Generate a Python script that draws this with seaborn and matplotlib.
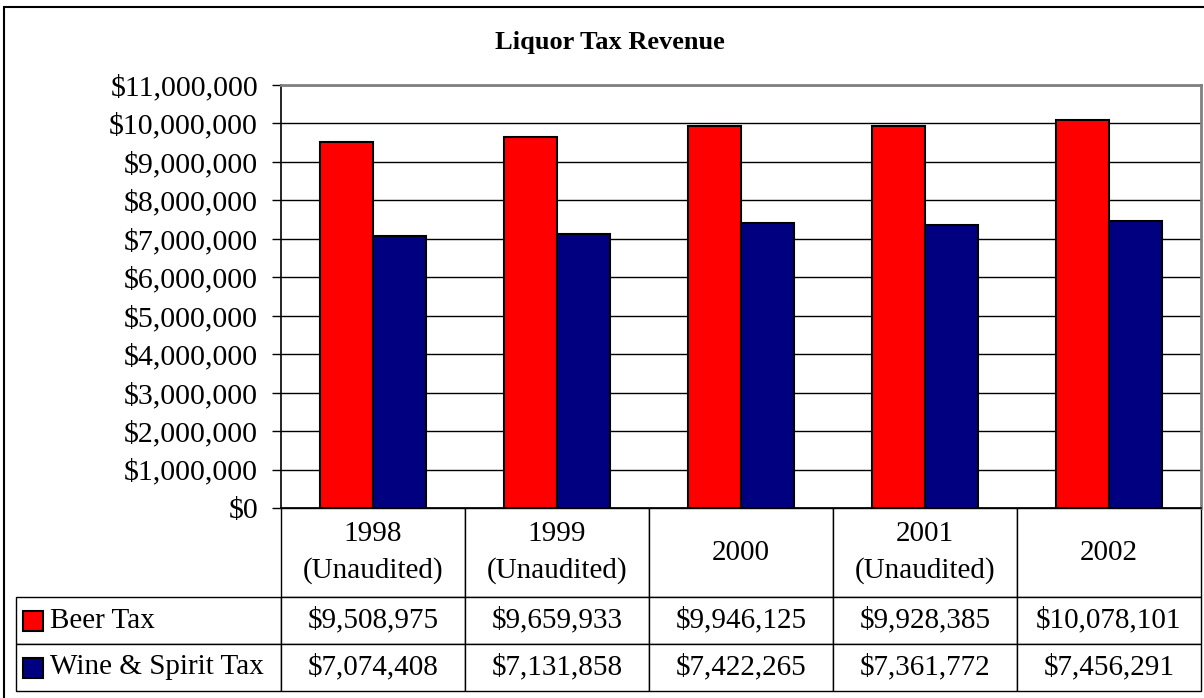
import pandas as pd
import seaborn as sns
import matplotlib.pyplot as plt
from matplotlib.patches import Rectangle
from matplotlib.ticker import StrMethodFormatter

sns.set_theme(style='white')
plt.rcParams['font.family'] = ['Liberation Serif', 'DejaVu Serif']
plt.rcParams['text.color'] = 'black'
plt.rcParams['ytick.color'] = 'black'
plt.rcParams['xtick.color'] = 'black'

years = ['1998\n(Unaudited)', '1999\n(Unaudited)', '2000', '2001\n(Unaudited)', '2002']
beer_tax = [9508975, 9659933, 9946125, 9928385, 10078101]
wine_tax = [7074408, 7131858, 7422265, 7361772, 7456291]
series = ['Beer Tax', 'Wine & Spirit Tax']
colors = ['#FF0000', '#000080']

df = pd.DataFrame({
    'Year': years * 2,
    'Series': [series[0]] * len(years) + [series[1]] * len(years),
    'Revenue': beer_tax + wine_tax,
})

W, H = 1204, 698
fig = plt.figure(figsize=(W / 100, H / 100), dpi=100)
# plot area in pixels: left 281, right 1201, top 85, bottom 508
ax = fig.add_axes([281 / W, 1 - 508 / H, 920 / W, 423 / H])

sns.barplot(data=df, x='Year', y='Revenue', hue='Series', hue_order=series,
            palette=colors, width=0.576, gap=0, edgecolor='black', linewidth=1.5,
            saturation=1, legend=False, ax=ax, zorder=3)

ax.set_ylim(0, 11000000)
ax.set_yticks(range(0, 11000001, 1000000))
ax.yaxis.set_major_formatter(StrMethodFormatter('${x:,.0f}'))
ax.tick_params(axis='y', labelsize=21.5, length=6.5, width=1, direction='out',
               color='black', labelcolor='black', pad=10, left=True)
ax.tick_params(axis='x', bottom=False, labelbottom=False)
ax.set_xlabel('')
ax.set_ylabel('')
ax.set_axisbelow(True)
ax.yaxis.grid(True, color='black', linewidth=1)
for s in ['top', 'right']:
    ax.spines[s].set_color('#808080')
    ax.spines[s].set_linewidth(2)
for s in ['left', 'bottom']:
    ax.spines[s].set_color('black')
    ax.spines[s].set_linewidth(1.2)

# data table below the plot
cell_text = [[''] + years,
             [series[0]] + ['${:,}'.format(v) for v in beer_tax],
             [series[1]] + ['${:,}'.format(v) for v in wine_tax]]
col_w = [265] + [184] * len(years)
row_h = [89, 47, 47]
tx0, tx1 = 16, 1201
ty0, ty1 = 508, 508 + sum(row_h)
bbox = [(tx0 - 281) / 920, (508 - ty1) / 423, (tx1 - tx0) / 920, (ty1 - ty0) / 423]
tbl = ax.table(cellText=cell_text, colWidths=col_w, cellLoc='center', bbox=bbox)
tbl.auto_set_font_size(False)
tbl.set_fontsize(21)
for (r, c), cell in tbl.get_celld().items():
    cell.set_height(row_h[r])
    cell.set_edgecolor('black')
    cell.set_linewidth(1)
    cell.get_text().set_color('black')
    cell.get_text().set_linespacing(1.45)
    if c == 0:
        if r == 0:
            cell.visible_edges = 'open'
        else:
            cell.get_text().set_ha('left')
            cell.PAD = 34 / 265

# legend keys inside the table
y_top = 508 + row_h[0]
for i, col in enumerate(colors):
    yc = y_top + row_h[1] * i + row_h[1 + i] / 2
    ax.add_patch(Rectangle(((23 - 281) / 920, (508 - yc - 10) / 423), 20 / 920, 20 / 423,
                           transform=ax.transAxes, facecolor=col, edgecolor='black',
                           linewidth=1.5, clip_on=False, zorder=5))

fig.text(610 / W, 1 - 42 / H, 'Liquor Tax Revenue', ha='center', va='center',
         fontsize=19, fontweight='bold', color='black')

# chart border (left and top edges visible, rest cut off)
fig.patches.append(Rectangle((4 / W, -0.1), 1.2, 1.1 - 7 / H, transform=fig.transFigure,
                             fill=False, edgecolor='black', linewidth=1.5))

fig.savefig('out.png', dpi=100)
